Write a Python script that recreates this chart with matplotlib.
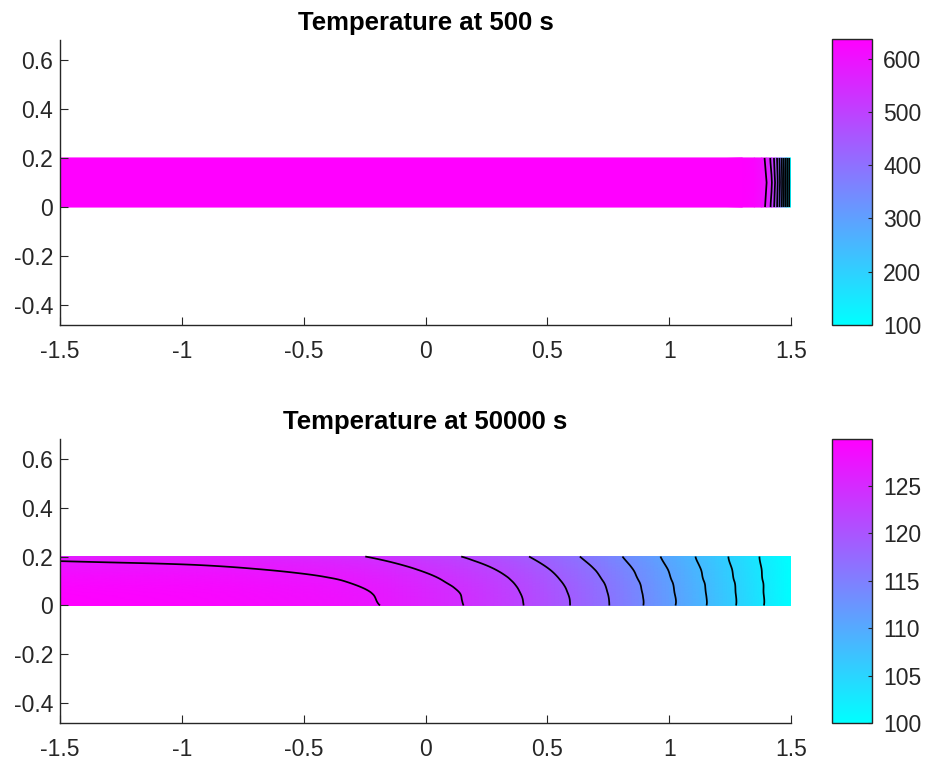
import numpy as np
import matplotlib
matplotlib.use("Agg")
import matplotlib.pyplot as plt
import matplotlib.tri as mtri

plt.rcParams['font.family'] = ['Liberation Sans', 'DejaVu Sans']
plt.rcParams['axes.unicode_minus'] = False

# ---------------- data ----------------
titles = ["Temperature at 500 s", "Temperature at 50000 s"]

# field at t = 500 s (rows: y values, columns: x values)
x_500 = [-1.5, 1.30, 1.35, 1.38, 1.40, 1.42, 1.44, 1.46, 1.48, 1.50]
y_500 = [0.0, 0.1, 0.2]
T_500 = [
    [637.0, 636.3, 628.3, 608.0, 578.5, 530.0, 457.0, 357.8, 235.3, 100.0],
    [637.0, 636.5, 630.0, 612.0, 588.0, 545.0, 470.0, 365.0, 238.0, 100.0],
    [637.0, 636.3, 628.3, 606.0, 575.0, 527.0, 455.0, 356.0, 235.0, 100.0],
]

# field at t = 50000 s
x_50000 = [-1.5, -1.25, -1.0, -0.75, -0.5, -0.25, 0.0, 0.25, 0.5, 0.75, 1.0, 1.25, 1.375, 1.5]
y_50000 = [0.0, 0.05, 0.1, 0.15, 0.2]
T_50000 = [
    [129.90, 129.65, 129.42, 129.00, 128.42, 127.54, 125.80, 123.57, 120.40, 116.39, 111.41, 106.00, 103.05, 100.0],
    [129.69, 129.45, 129.22, 128.81, 128.23, 127.35, 125.61, 123.40, 120.26, 116.27, 111.34, 105.96, 103.02, 100.0],
    [129.08, 128.85, 128.63, 128.23, 127.67, 126.78, 125.06, 122.90, 119.83, 115.93, 111.11, 105.82, 102.94, 100.0],
    [128.04, 127.84, 127.64, 127.27, 126.74, 125.82, 124.13, 122.05, 119.11, 115.35, 110.74, 105.60, 102.81, 100.0],
    [126.60, 126.43, 126.25, 125.93, 125.43, 124.48, 122.83, 120.87, 118.11, 114.54, 110.21, 105.29, 102.62, 100.0],
]

xticks = [-1.5, -1, -0.5, 0, 0.5, 1, 1.5]
xticklabels = ["-1.5", "-1", "-0.5", "0", "0.5", "1", "1.5"]
yticks = [-0.4, -0.2, 0, 0.2, 0.4, 0.6]
yticklabels = ["-0.4", "-0.2", "0", "0.2", "0.4", "0.6"]
cbar_ticks = [[100, 200, 300, 400, 500, 600], [100, 105, 110, 115, 120, 125]]
n_levels = 10

# ---------------- figure ----------------
W, H = 925, 763
fig = plt.figure(figsize=(W / 100, H / 100), dpi=100)
fig.patch.set_facecolor('white')
dark = '#262626'


def px_axes(l, t, r, b):
    return [l / W, 1 - b / H, (r - l) / W, (b - t) / H]


panels = [
    (x_500, y_500, T_500, False, px_axes(60, 40, 791, 325), px_axes(832, 39, 872, 325)),
    (x_50000, y_50000, T_50000, True, px_axes(60, 439, 791, 723), px_axes(832, 439, 872, 723)),
]

for i, (xs, ys, T, smooth, apos, cpos) in enumerate(panels):
    ax = fig.add_axes(apos)
    X, Y = np.meshgrid(np.array(xs), np.array(ys))
    Z = np.array(T)
    tri = mtri.Triangulation(X.ravel(), Y.ravel())
    z = Z.ravel()
    vmin, vmax = z.min(), z.max()
    if smooth:
        refiner = mtri.UniformTriRefiner(tri)
        interp = mtri.CubicTriInterpolator(tri, z, kind='min_E')
        tri_r, z_r = refiner.refine_field(z, triinterpolator=interp, subdiv=4)
    else:
        tri_r, z_r = tri, z
    im = ax.tripcolor(tri_r, z_r, shading='gouraud', cmap='cool', vmin=vmin, vmax=vmax)
    levels = np.linspace(vmin, vmax, n_levels + 2)[1:-1]
    ax.tricontour(tri_r, z_r, levels=levels, colors='k', linewidths=1.25)

    ax.set_xlim(-1.5, 1.5)
    ax.set_ylim(-0.48, 0.68)
    ax.set_xticks(xticks)
    ax.set_xticklabels(xticklabels)
    ax.set_yticks(yticks)
    ax.set_yticklabels(yticklabels)
    for s in ['top', 'right']:
        ax.spines[s].set_visible(False)
    for s in ['left', 'bottom']:
        ax.spines[s].set_color(dark)
        ax.spines[s].set_linewidth(1.0)
    ax.tick_params(axis='both', direction='in', length=5.5, width=0.8, color=dark,
                   labelcolor=dark, labelsize=16.5)
    ax.tick_params(axis='x', pad=11)
    ax.tick_params(axis='y', pad=5)
    ax.set_title(titles[i], fontsize=18.5, fontweight='bold', color='black', pad=7)

    cax = fig.add_axes(cpos)
    cb = fig.colorbar(im, cax=cax)
    cb.set_ticks(cbar_ticks[i])
    cb.set_ticklabels([str(t) for t in cbar_ticks[i]])
    cb.outline.set_edgecolor(dark)
    cb.outline.set_linewidth(1.0)
    cax.tick_params(direction='in', length=3, width=0.8, color=dark, labelcolor=dark,
                    labelsize=16.5, pad=8)

fig.savefig('out.png', dpi=100)
